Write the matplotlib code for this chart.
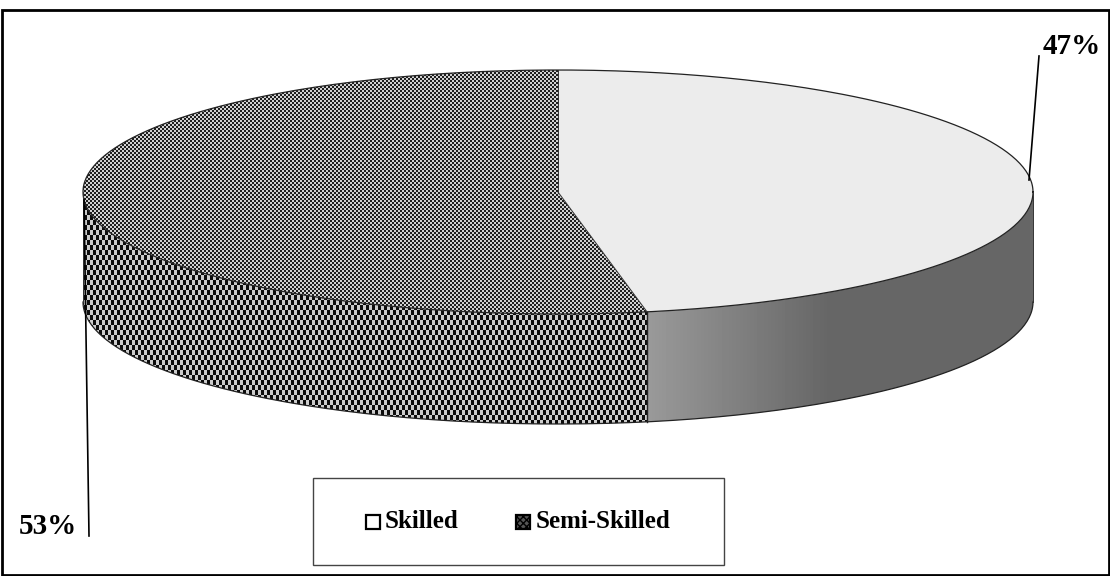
import numpy as np
import matplotlib
matplotlib.use("Agg")
import matplotlib.pyplot as plt
from matplotlib.patches import Polygon, Rectangle

# Dados
categorias = ["Skilled", "Semi-Skilled"]
valores = [47, 53]

# Geometria da pizza em pixels
cx, cy = 558, 192
rx, ry = 475, 122
prof = 110
L, A = 1110, 576


def ponto(ang):
    return cx + rx * np.cos(ang), cy + ry * np.sin(ang)


def textura(celx, cely, claro=0.85, escuro=0.1):
    yy, xx = np.mgrid[0:A, 0:L]
    return np.where((xx // celx + yy // cely) % 2 == 0, claro, escuro)


fig = plt.figure(figsize=(L / 100, A / 100), dpi=100)
ax = fig.add_axes([0, 0, 1, 1])
ax.set_xlim(0, L)
ax.set_ylim(A, 0)
ax.axis("off")
plt.rcParams["font.family"] = ["Liberation Serif", "DejaVu Sans"]

# angulos a partir do topo, sentido horario (y para baixo)
inicio = -np.pi / 2
fim = inicio + 2 * np.pi * valores[0] / sum(valores)

# Laterais
a_sk = np.linspace(0, fim, 120)
xs, ys = ponto(a_sk)
lado_sk = Polygon(np.r_[np.c_[xs, ys], np.c_[xs, ys + prof][::-1]], closed=True, fc="none", ec="none")
ax.add_patch(lado_sk)
grad = np.clip(0.60 - (np.arange(L) - 649) / 180 * 0.2, 0.40, 0.60)
im = ax.imshow(np.tile(grad, (A, 1)), cmap="gray", vmin=0, vmax=1, extent=(0, L, A, 0), aspect="auto", interpolation="bilinear")
im.set_clip_path(lado_sk)

a_se = np.linspace(fim, np.pi, 120)
xs2, ys2 = ponto(a_se)
lado_se = Polygon(np.r_[np.c_[xs2, ys2], np.c_[xs2, ys2 + prof][::-1]], closed=True, fc="none", ec="none")
ax.add_patch(lado_se)
im = ax.imshow(textura(3, 5, 0.8, 0.05), cmap="gray", vmin=0, vmax=1, extent=(0, L, A, 0), aspect="auto", interpolation="bilinear")
im.set_clip_path(lado_se)

# Topo
a1 = np.linspace(inicio, fim, 200)
x1, y1 = ponto(a1)
topo_sk = Polygon(np.r_[[[cx, cy]], np.c_[x1, y1]], closed=True, fc="#ececec", ec="none")
ax.add_patch(topo_sk)

a2 = np.linspace(fim, inicio + 2 * np.pi, 200)
x2, y2 = ponto(a2)
topo_se = Polygon(np.r_[[[cx, cy]], np.c_[x2, y2]], closed=True, fc="none", ec="none")
ax.add_patch(topo_se)
im = ax.imshow(textura(2, 2, 0.82, 0.12), cmap="gray", vmin=0, vmax=1, extent=(0, L, A, 0), aspect="auto", interpolation="bilinear")
im.set_clip_path(topo_se)
ax.set_xlim(0, L)
ax.set_ylim(A, 0)

# Contornos
ax.plot(*ponto(np.linspace(0, 2 * np.pi, 400)), color="#222222", lw=0.9)
ax.plot(cx + rx * np.cos(np.linspace(0, np.pi, 200)), cy + prof + ry * np.sin(np.linspace(0, np.pi, 200)), color="#222222", lw=0.9)
xf, yf = ponto(fim)
ax.plot([cx, xf], [cy, yf], color="#333333", lw=0.7)
ax.plot([xf, xf], [yf, yf + prof], color="#222222", lw=1)
ax.plot([cx, cx], [cy, cy - ry], color="#333333", lw=0.7)
ax.plot([cx + rx, cx + rx], [cy, cy + prof], color="#333333", lw=0.7)
ax.plot([cx - rx, cx - rx], [cy, cy + prof], color="#333333", lw=0.7)

# Linhas de chamada e rotulos
ax.plot([1029, 1039], [180, 56], color="black", lw=1.2)
ax.plot([84, 89], [200, 536], color="black", lw=1.2)
ax.text(1043, 47, f"{valores[0]}%", fontsize=21, fontweight="bold", ha="left", va="center")
ax.text(19, 526, f"{valores[1]}%", fontsize=21, fontweight="bold", ha="left", va="center")

# Legenda
ax.add_patch(Rectangle((313, 478), 411, 87, fc="white", ec="#444444", lw=1))
ax.add_patch(Rectangle((366, 515), 14, 14, fc="white", ec="black", lw=1.6))
ax.add_patch(Rectangle((516, 515), 14, 14, fc="#555555", ec="black", lw=1.6, hatch="xxxxx"))
ax.text(385, 521, categorias[0], fontsize=18, fontweight="bold", ha="left", va="center")
ax.text(536, 521, categorias[1], fontsize=18, fontweight="bold", ha="left", va="center")

# Moldura
ax.add_patch(Rectangle((1.5, 10), L - 3, A - 11, fc="none", ec="black", lw=2, clip_on=False))

fig.savefig("out.png", dpi=100)
